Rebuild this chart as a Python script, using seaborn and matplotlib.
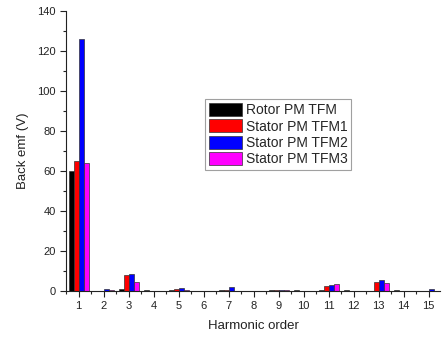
import matplotlib
matplotlib.use("Agg")
import matplotlib.pyplot as plt
from matplotlib.ticker import MultipleLocator, FixedLocator
import seaborn as sns
import pandas as pd

harmonics = list(range(1, 16))
series_names = ["Rotor PM TFM", "Stator PM TFM1", "Stator PM TFM2", "Stator PM TFM3"]
rotor_tfm = [60.0, 0.2, 1.0, 0.3, 0.3, 0.2, 0.3, 0.2, 0.3, 0.3, 0.3, 0.4, 0.2, 0.3, 0.1]
stator_tfm1 = [65.0, 0.2, 7.8, 0.2, 1.2, 0.1, 0.5, 0.1, 0.6, 0.1, 2.3, 0.1, 4.5, 0.2, 0.1]
stator_tfm2 = [126.0, 0.8, 8.3, 0.1, 1.3, 0.1, 2.0, 0.1, 0.7, 0.1, 3.2, 0.1, 5.5, 0.1, 0.8]
stator_tfm3 = [64.0, 0.3, 4.5, 0.1, 0.4, 0.1, 0.2, 0.1, 0.4, 0.1, 3.7, 0.1, 4.0, 0.1, 0.1]
colors = ["#000000", "#ff0000", "#0000ff", "#ff00ff"]

rows = []
for name, vals in zip(series_names, [rotor_tfm, stator_tfm1, stator_tfm2, stator_tfm3]):
    for h, v in zip(harmonics, vals):
        rows.append({"Harmonic": h, "Series": name, "Value": v})
df = pd.DataFrame(rows)

sns.set_style("ticks")
plt.rcParams["font.family"] = ["Liberation Sans", "DejaVu Sans"]

fig = plt.figure(figsize=(4.43, 3.42), dpi=100)
ax = fig.add_axes([0.149, 0.149, 0.844, 0.819])

sns.barplot(data=df, x="Harmonic", y="Value", hue="Series", order=harmonics,
            hue_order=series_names, palette=colors, saturation=1, width=0.8,
            dodge=True, edgecolor="#333333", linewidth=0.5, ax=ax)

ax.set_xlim(-0.5, 14.45)
ax.set_ylim(0, 140)
ax.yaxis.set_major_locator(MultipleLocator(20))
ax.yaxis.set_minor_locator(MultipleLocator(10))
ax.xaxis.set_minor_locator(FixedLocator([i + 0.5 for i in range(-1, 15)]))
ax.set_xticks(range(len(harmonics)))
ax.set_xticklabels([str(h) for h in harmonics])

ax.tick_params(axis="both", which="major", direction="out", length=4, width=0.8,
               labelsize=8, color="#222222", labelcolor="#222222")
ax.tick_params(axis="both", which="minor", direction="out", length=2, width=0.8,
               color="#222222")

for side in ["top", "right"]:
    ax.spines[side].set_visible(False)
for side in ["left", "bottom"]:
    ax.spines[side].set_color("#222222")
    ax.spines[side].set_linewidth(0.8)

ax.set_xlabel("Harmonic order", fontsize=9.5, color="#222222", labelpad=6)
ax.set_ylabel("Back emf (V)", fontsize=9.5, color="#222222", labelpad=6)

leg = ax.legend(loc="upper left", bbox_to_anchor=(0.372, 0.685), fontsize=10,
                frameon=True, fancybox=False, edgecolor="#888888",
                handlelength=2.4, handleheight=1.1, labelspacing=0.15,
                handletextpad=0.3, borderpad=0.25, borderaxespad=0)
leg.get_frame().set_linewidth(0.8)

fig.savefig("out.png", dpi=100)
